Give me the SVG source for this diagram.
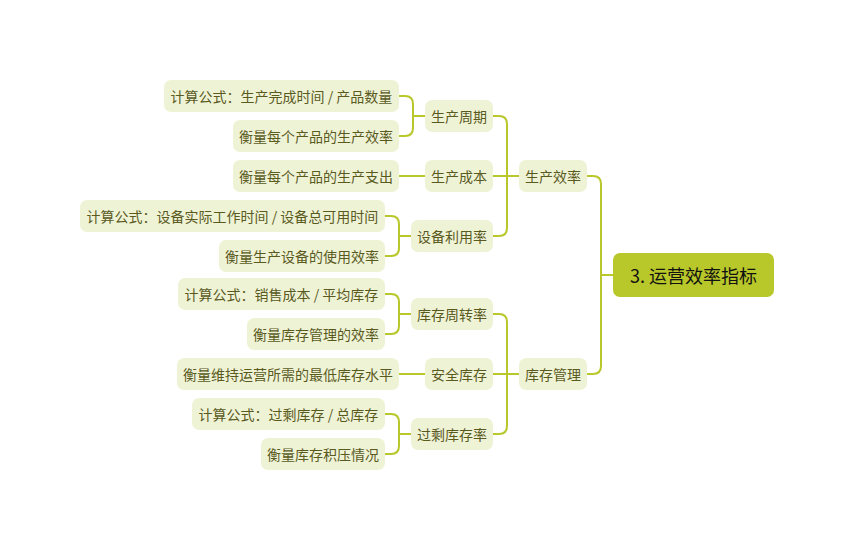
<svg xmlns="http://www.w3.org/2000/svg" width="855" height="550" viewBox="0 0 855 550">
<style>
.n rect{fill:#eff3d6}
.n text{font-family:"Noto Sans CJK SC","Noto Sans",sans-serif;font-size:14px;fill:#5a5a1e;text-anchor:middle;dominant-baseline:central}
.root rect{fill:#b8c729}
.root text{font-family:"Noto Sans CJK SC","Noto Sans",sans-serif;font-size:18px;fill:#111;text-anchor:middle;dominant-baseline:central}
.c path{fill:none;stroke:#b8c729;stroke-width:2}
</style>
<rect width="855" height="550" fill="#fff"/>
<g id="connectors" class="c">
<path d="M613,275 H601 M587,176 H593 Q601,176 601,184 V366 Q601,374 593,374 H587"/>
<path d="M519,176 H507 M493,116 H499 Q507,116 507,124 V228 Q507,236 499,236 H493 M493,176 H507"/>
<path d="M425,116 H413 M399,96 H405 Q413,96 413,104 V128 Q413,136 405,136 H399"/>
<path d="M425,176 H399"/>
<path d="M411,236 H399 M385,216 H391 Q399,216 399,224 V248 Q399,256 391,256 H385"/>
<path d="M519,374 H507 M493,314 H499 Q507,314 507,322 V426 Q507,434 499,434 H493 M493,374 H507"/>
<path d="M411,314 H399 M385,294 H391 Q399,294 399,302 V326 Q399,334 391,334 H385"/>
<path d="M425,374 H399"/>
<path d="M411,434 H399 M385,414 H391 Q399,414 399,422 V446 Q399,454 391,454 H385"/>
</g>
<g id="root" class="root"><rect x="613" y="253" width="161" height="44" rx="7"/><text x="693.5" y="275">3. 运营效率指标</text></g>
<g id="n1" class="n"><rect x="519" y="160" width="68" height="32" rx="7"/><text x="553" y="176">生产效率</text></g>
<g id="n2" class="n"><rect x="519" y="358" width="68" height="32" rx="7"/><text x="553" y="374">库存管理</text></g>
<g id="n11" class="n"><rect x="425" y="100" width="68" height="32" rx="7"/><text x="459" y="116">生产周期</text></g>
<g id="n12" class="n"><rect x="425" y="160" width="68" height="32" rx="7"/><text x="459" y="176">生产成本</text></g>
<g id="n13" class="n"><rect x="411" y="220" width="82" height="32" rx="7"/><text x="452" y="236">设备利用率</text></g>
<g id="n111" class="n"><rect x="164" y="80" width="235" height="32" rx="7"/><text x="281.5" y="96">计算公式：生产完成时间 / 产品数量</text></g>
<g id="n112" class="n"><rect x="233" y="120" width="166" height="32" rx="7"/><text x="316" y="136">衡量每个产品的生产效率</text></g>
<g id="n121" class="n"><rect x="233" y="160" width="166" height="32" rx="7"/><text x="316" y="176">衡量每个产品的生产支出</text></g>
<g id="n131" class="n"><rect x="80" y="200" width="305" height="32" rx="7"/><text x="232.5" y="216">计算公式：设备实际工作时间 / 设备总可用时间</text></g>
<g id="n132" class="n"><rect x="219" y="240" width="166" height="32" rx="7"/><text x="302" y="256">衡量生产设备的使用效率</text></g>
<g id="n21" class="n"><rect x="411" y="298" width="82" height="32" rx="7"/><text x="452" y="314">库存周转率</text></g>
<g id="n22" class="n"><rect x="425" y="358" width="68" height="32" rx="7"/><text x="459" y="374">安全库存</text></g>
<g id="n23" class="n"><rect x="411" y="418" width="82" height="32" rx="7"/><text x="452" y="434">过剩库存率</text></g>
<g id="n211" class="n"><rect x="178" y="278" width="207" height="32" rx="7"/><text x="281.5" y="294">计算公式：销售成本 / 平均库存</text></g>
<g id="n212" class="n"><rect x="247" y="318" width="138" height="32" rx="7"/><text x="316" y="334">衡量库存管理的效率</text></g>
<g id="n221" class="n"><rect x="177" y="358" width="222" height="32" rx="7"/><text x="288" y="374">衡量维持运营所需的最低库存水平</text></g>
<g id="n231" class="n"><rect x="192" y="398" width="193" height="32" rx="7"/><text x="288.5" y="414">计算公式：过剩库存 / 总库存</text></g>
<g id="n232" class="n"><rect x="261" y="438" width="124" height="32" rx="7"/><text x="323" y="454">衡量库存积压情况</text></g>
</svg>
